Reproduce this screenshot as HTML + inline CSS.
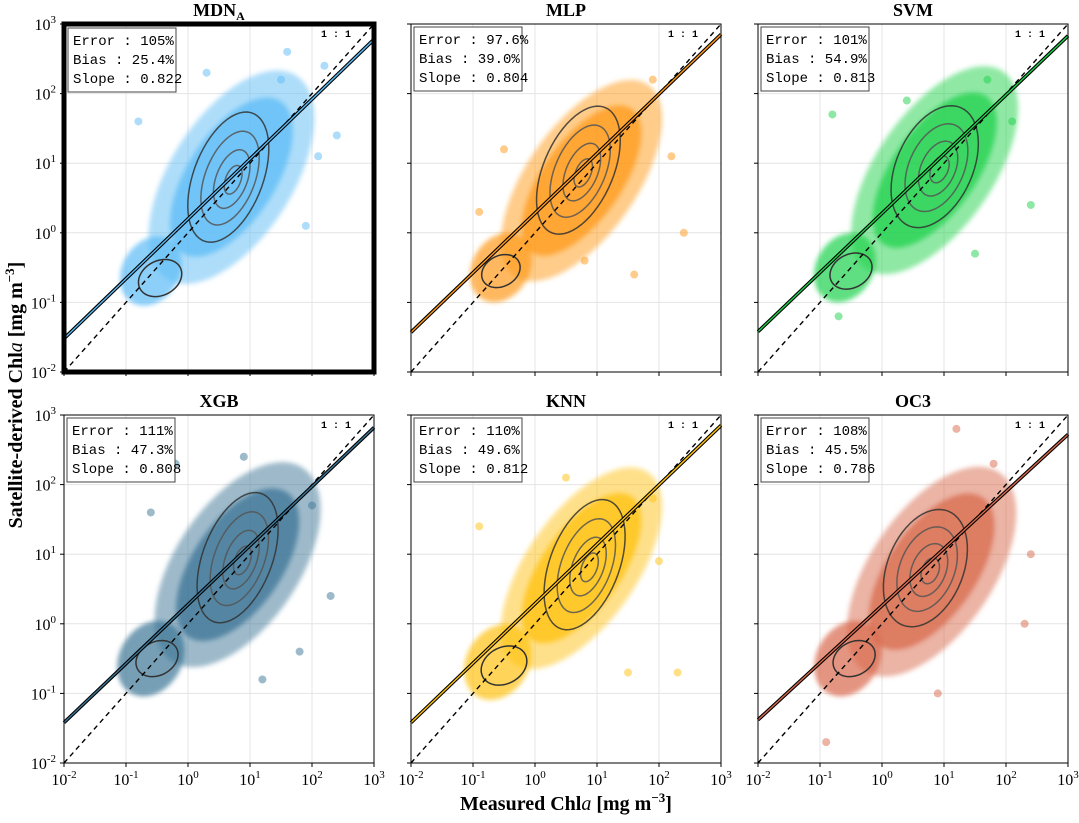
<!DOCTYPE html>
<html><head><meta charset="utf-8"><style>
html,body{margin:0;padding:0;background:#fff;}
svg{display:block;font-family:"Liberation Serif",serif;}
</style></head><body>
<svg id="chart" width="1079" height="823" viewBox="0 0 1079 823">
<defs><filter id="soft" x="-20%" y="-20%" width="140%" height="140%"><feGaussianBlur stdDeviation="2.5"/></filter></defs>
</svg>
<script>
// ---- data ----
const models = ["MDN_A","MLP","SVM","XGB","KNN","OC3"];
const colors = ["#5cbcf6","#ff9a1a","#1dd24c","#3b7596","#ffc20e","#d8694c"];
const errors = ["105%","97.6%","101%","111%","110%","108%"];
const biases = ["25.4%","39.0%","54.9%","47.3%","49.6%","45.5%"];
const slopes = ["0.822","0.804","0.813","0.808","0.812","0.786"];
// regression line: log10(y) at x=1e-2 and at x=1e3
const fitStart = [-1.52,-1.43,-1.42,-1.42,-1.42,-1.38];
const fitEnd = [2.78,2.85,2.83,2.82,2.85,2.72];
// main cloud: centre (log x, log y), half-length, half-width (decades), orientation (deg)
const cloudCx = [0.7,0.75,0.85,0.8,0.75,0.8];
const cloudCy = [0.8,0.75,0.9,0.85,0.8,0.75];
const cloudLen = [1.8,1.75,1.8,1.75,1.75,1.8];
const cloudWid = [0.95,0.85,0.9,0.95,0.85,0.95];
const cloudAng = [52,50,50,50,50,50];
// low-chl cluster
const lowCx = [-0.6,-0.55,-0.6,-0.6,-0.6,-0.55];
const lowCy = [-0.55,-0.5,-0.5,-0.5,-0.55,-0.5];
const lowR = [0.55,0.55,0.55,0.6,0.6,0.6];
// outer contour (main mode)
const contCx = [0.65,0.7,0.85,0.8,0.8,0.7];
const contCy = [0.8,0.9,0.95,0.95,0.85,0.8];
const contLen = [1.0,1.0,0.95,1.0,1.0,0.9];
const contWid = [0.55,0.55,0.6,0.55,0.55,0.6];
const contAng = [65,62,60,65,65,62];
// low contour
const lcCx = [-0.45,-0.55,-0.5,-0.5,-0.5,-0.45];
const lcCy = [-0.65,-0.55,-0.55,-0.5,-0.6,-0.5];
const lcR = [0.36,0.32,0.35,0.35,0.38,0.35];
// a few outliers per panel [logx, logy]
const outliers = [
 [[1.6,2.6],[2.2,2.4],[1.5,2.2],[2.4,1.4],[1.9,0.1],[-0.8,1.6],[2.1,1.1],[0.3,2.3]],
 [[2.4,0],[1.9,2.2],[-0.5,1.2],[1.6,-0.6],[0.8,-0.4],[2.2,1.1],[-0.9,0.3]],
 [[2.4,0.4],[1.7,2.2],[-0.8,1.7],[-0.7,-1.2],[0.4,1.9],[2.1,1.6],[1.5,-0.3]],
 [[2.3,0.4],[0.9,2.4],[-0.2,2.3],[-0.6,1.6],[1.8,-0.4],[1.2,-0.8],[2.0,1.7]],
 [[2.3,-0.7],[1.5,-0.7],[-0.9,1.4],[1.9,1.8],[0.5,2.1],[2.0,0.9]],
 [[1.2,2.8],[2.3,0.0],[-0.9,-1.7],[2.4,1.0],[-0.3,2.2],[1.8,2.3],[0.9,-1.0]]
];
const tickExp = ["-2","-1","0","1","2","3"];
// ---- layout ----
const svg = document.getElementById('chart');
const NS = "http://www.w3.org/2000/svg";
const PX = [64,411,758], PY = [24,415], PW = 310, PH = 348;
function mk(tag, attrs, parent){const e=document.createElementNS(NS,tag);for(const k in attrs)e.setAttribute(k,attrs[k]);(parent||svg).appendChild(e);return e;}
function ellipsePts(cx,cy,a,b,ang,sx,sy){const pts=[];const th=ang*Math.PI/180,c=Math.cos(th),s=Math.sin(th);for(let i=0;i<60;i++){const t=i/60*2*Math.PI;const u=a*Math.cos(t),v=b*Math.sin(t);pts.push(sx(cx+u*c-v*s)+","+sy(cy+u*s+v*c));}return pts.join(" ");}
models.forEach((m,i)=>{
  const col=i%3,row=Math.floor(i/3);
  const x0=PX[col],y0=PY[row];
  const sx=v=>x0+(v+2)/5*PW;
  const sy=v=>y0+PH-(v+2)/5*PH;
  const g=mk('g',{});
  
  
  for(let k=-1;k<=2;k++){
    const gx=mk('line',{x1:sx(k),x2:sx(k),y1:y0,y2:y0+PH,stroke:'#e4e4e4','stroke-width':1},g);
    
    const gy=mk('line',{x1:x0,x2:x0+PW,y1:sy(k),y2:sy(k),stroke:'#e4e4e4','stroke-width':1},g);
    
  }
  const cg=mk('g',{filter:'url(#soft)'},g);
  const c1=mk('polygon',{points:ellipsePts(cloudCx[i],cloudCy[i],cloudLen[i],cloudWid[i],cloudAng[i],sx,sy),fill:colors[i],opacity:0.5},cg);
  
  const c2=mk('polygon',{points:ellipsePts(cloudCx[i],cloudCy[i],cloudLen[i]*0.75,cloudWid[i]*0.72,cloudAng[i],sx,sy),fill:colors[i],opacity:0.75},cg);
  
  const c3=mk('polygon',{points:ellipsePts(lowCx[i],lowCy[i],lowR[i],lowR[i]*0.8,45,sx,sy),fill:colors[i],opacity:0.7},cg);
  
  outliers[i].forEach(p=>{
    const c=mk('circle',{cx:sx(p[0]),cy:sy(p[1]),r:4,fill:colors[i],opacity:0.5},g);
    
  });
  [1,0.72,0.45,0.22].forEach((f,j)=>{
    const ct=mk('polygon',{points:ellipsePts(contCx[i]+(1-f)*0.1,contCy[i]-(1-f)*0.05,contLen[i]*f,contWid[i]*f,contAng[i],sx,sy),fill:'none',stroke:j==0?'#333':'#555','stroke-width':1.5,opacity:0.85},g);
    
  });
  const lc=mk('polygon',{points:ellipsePts(lcCx[i],lcCy[i],lcR[i],lcR[i]*0.7,20,sx,sy),fill:'none',stroke:'#333','stroke-width':1.5},g);
  
  const d=mk('line',{x1:sx(-2),y1:sy(-2),x2:sx(3),y2:sy(3),stroke:'#000','stroke-width':1.4,'stroke-dasharray':'5,4'},g);
  
  const f1=mk('line',{x1:sx(-2),y1:sy(fitStart[i]),x2:sx(3),y2:sy(fitEnd[i]),stroke:'#000','stroke-width':3.6},g);
  
  const f2=mk('line',{x1:sx(-2),y1:sy(fitStart[i]),x2:sx(3),y2:sy(fitEnd[i]),stroke:colors[i],'stroke-width':1.4},g);
  
  const bw=i==0?5:1;
  const fr=mk('rect',{x:x0,y:y0,width:PW,height:PH,fill:'none',stroke:'#000','stroke-width':bw},g);
  
  for(let k=-2;k<=3;k++){
    const tx=mk('line',{x1:sx(k),x2:sx(k),y1:y0+PH,y2:y0+PH+4,stroke:'#000'},g);
    
    const ty=mk('line',{x1:x0-4,x2:x0,y1:sy(k),y2:sy(k),stroke:'#000'},g);
    
  }
  if(row==1){tickExp.forEach((e,k)=>{
    const t=mk('text',{x:sx(k-2),y:y0+PH+22,'text-anchor':'middle','font-size':16},g);
    t.innerHTML='10<tspan dy="-7" font-size="11">'+e+'</tspan>';
    
  });}
  if(col==0){tickExp.forEach((e,k)=>{
    const t=mk('text',{x:x0-8,y:sy(k-2)+6,'text-anchor':'end','font-size':16},g);
    t.innerHTML='10<tspan dy="-7" font-size="11">'+e+'</tspan>';
    
  });}
  const tt=mk('text',{x:x0+PW/2,y:y0-8,'text-anchor':'middle','font-size':18,'font-weight':'bold'},g);
  tt.innerHTML=m=="MDN_A"?'MDN<tspan dy="4" font-size="12">A</tspan>':m;
  
  const ol=mk('text',{x:x0+PW-38,y:y0+13,'text-anchor':'middle','font-size':10,'font-weight':'bold','font-family':'Liberation Mono, monospace'},g);
  ol.textContent='1 : 1';
  
  const off=i==0?4:3;
  const sb=mk('rect',{x:x0+off,y:y0+off,width:108,height:64,fill:'#fff',stroke:'#444','stroke-width':1},g);
  
  [['Error',errors[i]],['Bias ',biases[i]],['Slope',slopes[i]]].forEach((r,j)=>{
    const t=mk('text',{x:x0+off+5,y:y0+off+17+j*19,'font-size':14,'font-family':'Liberation Mono, monospace','xml:space':'preserve'},g);
    t.textContent=r[0]+' : '+r[1];
    
  });
});
const xl=mk('text',{x:566,y:810,'text-anchor':'middle','font-size':20,'font-weight':'bold'});
xl.innerHTML='Measured Chl<tspan font-style="italic" font-weight="normal">a</tspan> [mg m<tspan dy="-8" font-size="13">−3</tspan><tspan dy="8">]</tspan>';

const yl=mk('text',{x:0,y:0,'text-anchor':'middle','font-size':20,'font-weight':'bold',transform:'translate(22,395) rotate(-90)'});
yl.innerHTML='Satellite-derived Chl<tspan font-style="italic" font-weight="normal">a</tspan> [mg m<tspan dy="-8" font-size="13">−3</tspan><tspan dy="8">]</tspan>';

</script>
</body></html>
